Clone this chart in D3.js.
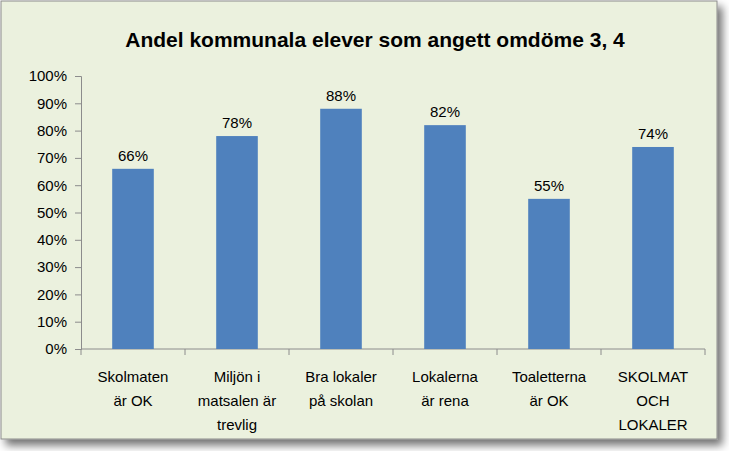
<!DOCTYPE html><html><head><meta charset="utf-8"><script src="https://cdn.jsdelivr.net/npm/d3@7"></script>
<style>body{margin:0;background:#fff}</style></head><body><svg id="c" width="729" height="451"></svg><script>
const categories=[["Skolmaten","är OK"],["Miljön i","matsalen är","trevlig"],["Bra lokaler","på skolan"],["Lokalerna","är rena"],["Toaletterna","är OK"],["SKOLMAT","OCH","LOKALER"]];
const values=[66,78,88,82,55,74];
const yTicks=[0,10,20,30,40,50,60,70,80,90,100];
const title="Andel kommunala elever som angett omdöme 3, 4";
const svg=d3.select("#c");
const defs=svg.append("defs");
const f=defs.append("filter").attr("id","sh").attr("x","-5%").attr("y","-5%").attr("width","115%").attr("height","115%");
f.append("feDropShadow").attr("dx",5).attr("dy",6).attr("stdDeviation",4).attr("flood-color","#000").attr("flood-opacity",0.55);
svg.append("rect").attr("x",1).attr("y",1).attr("width",716).attr("height",438).attr("fill","#ebf1de").attr("stroke","#8c8c8c").attr("filter","url(#sh)");
svg.append("text").attr("x",375).attr("y",47).attr("text-anchor","middle").attr("font-family","Liberation Sans, Arial").attr("font-weight","bold").attr("font-size",21).text(title);
const L=81,R=705,T=76,B=349;
const x=d3.scaleBand().domain(d3.range(values.length)).range([L,R]).paddingInner(0.6).paddingOuter(0.3);
const xb=d3.scaleBand().domain(d3.range(values.length)).range([L,R]);
const y=d3.scaleLinear().domain([0,100]).range([B,T]);
const g=svg.append("g").attr("font-family","Liberation Sans, Arial").attr("font-size",15);
const ya=g.append("g").attr("transform",`translate(${L},0)`).call(d3.axisLeft(y).tickValues(yTicks).tickFormat(d=>d+"%").tickSize(6).tickPadding(8));
ya.selectAll("text").attr("font-family","Liberation Sans, Arial").attr("font-size",15).attr("fill","#000");
ya.selectAll("line,path").attr("stroke","#8c8c8c");
g.append("line").attr("x1",L).attr("x2",R).attr("y1",B).attr("y2",B).attr("stroke","#8c8c8c");
d3.range(values.length+1).forEach(i=>{const xx=i<values.length?xb(i):R;g.append("line").attr("x1",xx).attr("x2",xx).attr("y1",B).attr("y2",B+6).attr("stroke","#8c8c8c");});
g.selectAll(".bar").data(values).join("rect").attr("x",(d,i)=>x(i)).attr("width",x.bandwidth()).attr("y",d=>y(d)).attr("height",d=>B-y(d)).attr("fill","#4f81bd");
g.selectAll(".lbl").data(values).join("text").attr("x",(d,i)=>x(i)+x.bandwidth()/2).attr("y",d=>y(d)-8).attr("text-anchor","middle").text(d=>d+"%");
categories.forEach((c,i)=>{const t=g.append("text").attr("text-anchor","middle").attr("x",xb(i)+xb.bandwidth()/2).attr("y",382);
c.forEach((s,j)=>t.append("tspan").attr("x",xb(i)+xb.bandwidth()/2).attr("dy",j?24:0).text(s));});
</script></body></html>
